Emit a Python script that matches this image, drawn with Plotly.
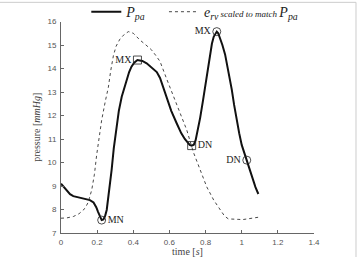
import plotly.graph_objects as go

# P_pa (solid)
t_ppa = [0, 0.015, 0.03, 0.05, 0.068, 0.1, 0.13, 0.16, 0.18, 0.195, 0.205, 0.215, 0.225, 0.235, 0.245,
         0.253, 0.265, 0.28, 0.292, 0.304, 0.32, 0.336, 0.35, 0.364, 0.377, 0.39, 0.405, 0.423, 0.45,
         0.474, 0.51, 0.53, 0.548, 0.565, 0.585, 0.61, 0.64, 0.665, 0.685, 0.7, 0.712, 0.723, 0.735,
         0.745, 0.755, 0.77, 0.785, 0.797, 0.81, 0.825, 0.835, 0.845, 0.855, 0.862, 0.87, 0.88,
         0.893, 0.908, 0.925, 0.945, 0.958, 0.972, 0.986, 1.0, 1.014, 1.028, 1.045, 1.06, 1.076, 1.092]
v_ppa = [9.1, 8.95, 8.8, 8.65, 8.57, 8.52, 8.47, 8.4, 8.3, 8.1, 7.9, 7.7, 7.55, 7.58, 7.75,
         7.98, 8.7, 9.68, 10.6, 11.4, 12.2, 12.8, 13.2, 13.55, 13.85, 14.08, 14.25, 14.36, 14.32,
         14.22, 14.0, 13.85, 13.6, 13.2, 12.8, 12.2, 11.67, 11.25, 11.0, 10.85, 10.75, 10.72, 10.76,
         10.95, 11.3, 11.9, 12.6, 13.2, 13.9, 14.65, 15.05, 15.35, 15.52, 15.57, 15.5, 15.3,
         15.0, 14.6, 13.95, 13.1, 12.45, 11.8, 11.25, 10.75, 10.4, 10.1, 9.65, 9.3, 8.95, 8.66]

# e_rv scaled (dotted)
t_erv = [0, 0.03, 0.068, 0.1, 0.133, 0.15, 0.17, 0.185, 0.197, 0.21, 0.225, 0.245, 0.262, 0.275,
         0.29, 0.305, 0.326, 0.35, 0.373, 0.4, 0.437, 0.47, 0.5, 0.525, 0.548, 0.585, 0.622, 0.66,
         0.696, 0.732, 0.77, 0.806, 0.845, 0.88, 0.905, 0.926, 0.95, 0.98, 1.005, 1.028, 1.06, 1.092]
v_erv = [7.63, 7.64, 7.7, 7.82, 8.05, 8.3, 8.83, 9.5, 10.3, 11.0, 11.8, 12.6, 13.2, 13.9,
         14.55, 14.95, 15.25, 15.45, 15.57, 15.5, 15.21, 15.0, 14.8, 14.55, 14.3, 13.55, 12.8, 12.1,
         11.38, 10.45, 9.7, 8.97, 8.4, 7.98, 7.72, 7.6, 7.58, 7.58, 7.57, 7.6, 7.62, 7.67]

# markers
sq_t = [0.423, 0.723]
sq_v = [14.36, 10.72]
sq_lab = ["MX", "DN"]
ci_t = [0.225, 0.862, 1.028]
ci_v = [7.55, 15.57, 10.1]
ci_lab = ["MN", "MX", "DN"]

x_ticks = [0, 0.2, 0.4, 0.6, 0.8, 1, 1.2, 1.4]
x_tick_text = ["0", "0.2", "0.4", "0.6", "0.8", "1", "1.2", "1.4"]
y_ticks = [7, 8, 9, 10, 11, 12, 13, 14, 15, 16]

serif = "Liberation Serif, DejaVu Serif, serif"
sans = "Liberation Sans, Arial, sans-serif"

fig = go.Figure()
fig.add_trace(go.Scatter(x=t_ppa, y=v_ppa, mode="lines", line=dict(color="#111", width=2),
                         name="<i>P</i><sub><i>pa</i></sub>", legend="legend"))
fig.add_trace(go.Scatter(x=t_erv, y=v_erv, mode="lines", line=dict(color="#333", width=0.9, dash="dot"),
                         name="<i>e</i><sub><i>rv</i></sub><span style=\"font-size:9px\"><i> scaled to match </i></span><i>P</i><sub><i>pa</i></sub>",
                         legend="legend2"))
fig.add_trace(go.Scatter(x=sq_t, y=sq_v, mode="markers+text", text=sq_lab, textposition=["middle left", "middle right"],
                         textfont=dict(family=serif, size=10, color="#222"),
                         marker=dict(symbol="square-open", size=8, color="#222", line=dict(width=0.8)), showlegend=False))
fig.add_trace(go.Scatter(x=ci_t, y=ci_v, mode="markers+text", text=ci_lab, textposition=["middle right", "middle left", "middle left"],
                         textfont=dict(family=serif, size=10, color="#222"),
                         marker=dict(symbol="circle-open", size=8, color="#222", line=dict(width=0.8)), showlegend=False))

leg_common = dict(orientation="h", yanchor="middle", xanchor="left", bgcolor="rgba(0,0,0,0)",
                  font=dict(family=serif, size=14, color="#222"), itemwidth=30)

fig.update_layout(
    width=357, height=257, autosize=False,
    margin=dict(l=61, r=43, t=0, b=24, autoexpand=False),
    paper_bgcolor="white", plot_bgcolor="white",
    showlegend=True,
    legend=dict(x=0.1, y=0.948, **leg_common),
    legend2=dict(x=0.407, y=0.948, **leg_common),
    xaxis=dict(range=[0, 1.4], tickvals=x_ticks, ticktext=x_tick_text, ticks="inside", ticklen=3,
               tickcolor="#666", showline=True, linecolor="#666", linewidth=1, showgrid=False, zeroline=False,
               tickfont=dict(family=sans, size=8, color="#555"), ticklabelstandoff=1,
               title=dict(text="time [<i>s</i>]", font=dict(family=serif, size=10, color="#444"), standoff=1)),
    yaxis=dict(range=[7, 16], domain=[0, 211.5 / 233], tickvals=y_ticks, ticks="inside", ticklen=3,
               tickcolor="#666", showline=True, linecolor="#666", linewidth=1, showgrid=False, zeroline=False,
               tickfont=dict(family=sans, size=8, color="#555"), ticklabelstandoff=2,
               title=dict(text="pressure [<i>mmHg</i>]", font=dict(family=serif, size=10, color="#444"), standoff=4)),
)
fig.add_shape(type="rect", xref="paper", yref="paper", x0=-0.3, x1=1.166, y0=-0.2, y1=0.99,
              line=dict(color="#ccc", width=1), fillcolor="rgba(0,0,0,0)", layer="below")
fig.write_html("out.html")
